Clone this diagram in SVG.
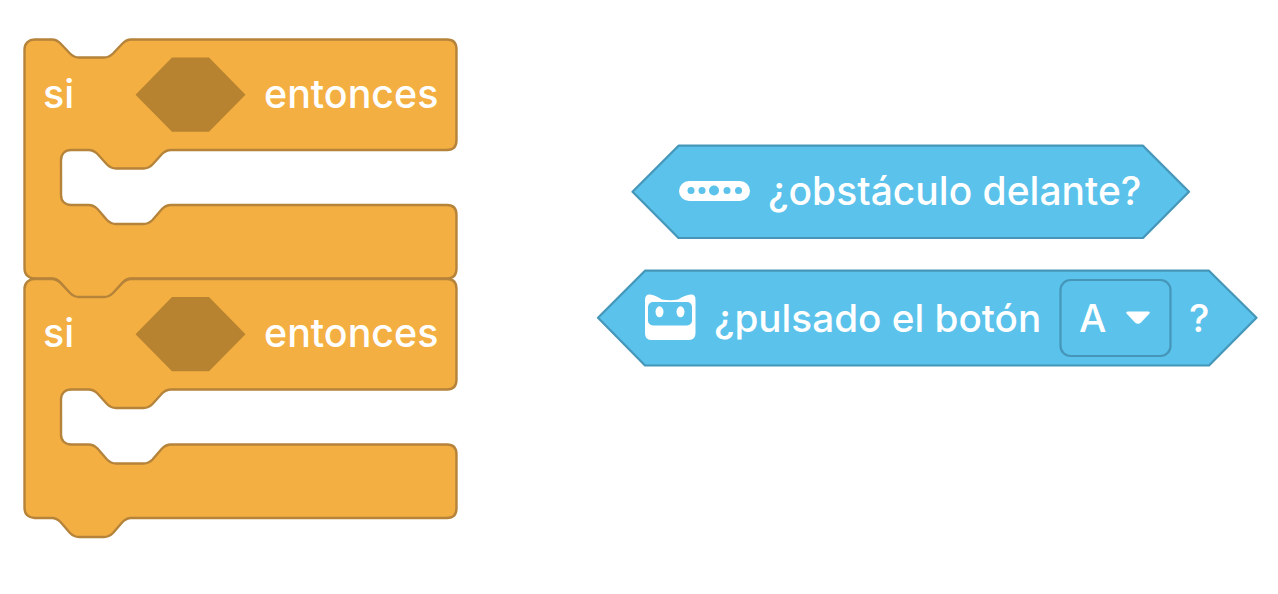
<svg xmlns="http://www.w3.org/2000/svg" width="1278" height="594" viewBox="0 0 1278 594">
<style>
.o{fill:#F4AF42;stroke:#B5833A;stroke-width:2.400;stroke-linejoin:round}
.h{fill:#B78330}
.b{fill:#5AC2EB;stroke:#4596B8;stroke-width:2.200;stroke-linejoin:round}
.t{font-family:"Inter","Liberation Sans",sans-serif;fill:#fff;font-size:39.400px;font-weight:500}
.s{font-size:39px}
.p{font-size:38.700px}
</style>
<defs>
<path id="c" class="o" d="M24.500 49.500C24.500 43 29 39.500 34.500 39.500H52C56 39.500 58 41 60.500 43.500L70 53.500C73 56.500 75 57.500 79 57.500H104C108 57.500 110 56.500 113 53.500L122.500 43.500C125 41 127 39.500 131 39.500H447C453 39.500 456.500 43 456.500 49.500V140C456.500 146.500 453 150 447 150H171C167 150 165 151 162 154L152.500 164.500C149.500 167.500 147.500 168.500 143.500 168.500H116C112 168.500 110 167.500 107 164.500L97.500 154C94.500 151 92.500 150 88.500 150H71C65 150 61 154 61 160V195C61 201 65 205 71 205H88.500C92.500 205 94.500 206 97.500 209L107 220C110 223 112 224 116 224H143.500C147.500 224 149.500 223 152.500 220L162 209C165 206 167 205 171 205H447C453 205 456.500 208.500 456.500 215V268.500C456.500 275 453 278.500 447 278.500H131C127 278.500 125 280 122.500 282.500L113 293.500C110 296.500 108 297.500 104 297.500H79C75 297.500 73 296.500 70 293.500L60.500 282.500C58 280 56 278.500 52 278.500H34.500C29 278.500 24.500 275 24.500 268.500Z"/>
</defs>
<g id="block-si-1">
<use href="#c"/>
<polygon class="h" points="135.500,94.700 172,57.500 209,57.500 245.500,94.700 209,131.800 172,131.800"/>
<text class="t" x="43" y="107.500">si</text>
<text class="t" x="264" y="107.500">entonces</text>
</g>
<g id="block-si-2" transform="translate(0 239.500)">
<use href="#c"/>
<polygon class="h" points="135.500,94.700 172,57.500 209,57.500 245.500,94.700 209,131.800 172,131.800"/>
<text class="t" x="43" y="107.500">si</text>
<text class="t" x="264" y="107.500">entonces</text>
</g>
<g id="block-obstaculo">
<polygon class="b" points="632.500,191.800 678.500,145.700 1143,145.700 1189,191.800 1143,238 678.500,238"/>
<rect x="679" y="181" width="71" height="20" rx="10" fill="#fff"/>
<g fill="#5AC2EB"><circle cx="691" cy="190.500" r="3.500"/><circle cx="702" cy="190.500" r="3.500"/><circle cx="714" cy="190.500" r="5"/><circle cx="727" cy="190.500" r="3.500"/><circle cx="738.500" cy="190.500" r="3.500"/></g>
<text class="t s" x="768" y="205">¿obstáculo delante?</text>
</g>
<g id="block-pulsado">
<polygon class="b" points="598,317.800 645,270.700 1209,270.700 1256.500,317.800 1209,365.500 645,365.500"/>
<path fill="#fff" d="M645 300Q645 294 650 294.500Q655 295 662 299.500Q670 301 678 299.500Q685 295 691 294.500Q695.500 294 695.500 300V333Q695.500 340 689 340H651Q645 340 645 333Z"/>
<rect x="648" y="302" width="44" height="23.500" rx="5" fill="#5AC2EB"/>
<ellipse cx="659.500" cy="311.800" rx="4" ry="5.500" fill="#fff"/>
<ellipse cx="680.500" cy="311.800" rx="4" ry="5.500" fill="#fff"/>
<text class="t p" x="714" y="332">¿pulsado el botón</text>
<rect x="1060.500" y="280" width="110" height="76" rx="10" fill="#5AC2EB" stroke="#4596B8" stroke-width="2.200"/>
<text class="t p" x="1079" y="332">A</text>
<path fill="#fff" d="M1128 311.500H1148Q1151 311.500 1149 314L1141 322.500Q1138 325 1135 322.500L1127 314Q1125 311.500 1128 311.500Z"/>
<text class="t p" x="1189" y="332">?</text>
</g>
<g id="connectors"/>
</svg>
